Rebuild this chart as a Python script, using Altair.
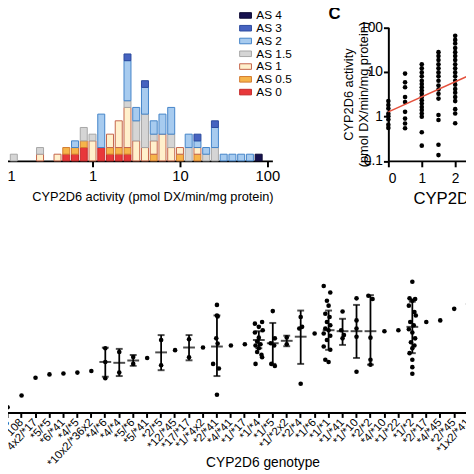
import altair as alt
import pandas as pd

# ---------------- Panel B: stacked histogram of activity by activity score ----------------
AS_LABELS = ["AS 4", "AS 3", "AS 2", "AS 1.5", "AS 1", "AS 0.5", "AS 0"]
AS_FILL = ["#17124f", "#4663c0", "#a7cbef", "#d5d5d5", "#fff0cc", "#f6b44a", "#e8383a"]
AS_STROKE = ["#0e0b35", "#2c4a9e", "#4384c8", "#a6a6a6", "#c4644a", "#d27a30", "#c42a2a"]
AS_ORDER = {"AS 0": 0, "AS 0.5": 1, "AS 1": 2, "AS 1.5": 3, "AS 2": 4, "AS 3": 5, "AS 4": 6}

hist_bin = [-0.9,
            -0.6, -0.6,
            -0.4,
            -0.3, -0.3,
            -0.2, -0.2, -0.2,
            -0.1, -0.1, -0.1,
            0.0, 0.0,
            0.1, 0.1,
            0.2, 0.2, 0.2,
            0.3, 0.3, 0.3,
            0.4, 0.4, 0.4, 0.4, 0.4, 0.4,
            0.5, 0.5, 0.5,
            0.6, 0.6, 0.6, 0.6,
            0.7, 0.7, 0.7, 0.7,
            0.8, 0.8,
            0.9, 0.9, 0.9,
            1.0, 1.0,
            1.1, 1.1,
            1.2, 1.2, 1.2, 1.2,
            1.3, 1.3,
            1.4, 1.4, 1.4,
            1.5, 1.6, 1.7, 1.8, 1.9]
hist_score = ["AS 1.5",
              "AS 1", "AS 1.5",
              "AS 1",
              "AS 0", "AS 0.5",
              "AS 0", "AS 0.5", "AS 2",
              "AS 0", "AS 0.5", "AS 1.5",
              "AS 1", "AS 1.5",
              "AS 0", "AS 2",
              "AS 0", "AS 0.5", "AS 1",
              "AS 0", "AS 0.5", "AS 1",
              "AS 0", "AS 0.5", "AS 1", "AS 1.5", "AS 2", "AS 3",
              "AS 1", "AS 1.5", "AS 2",
              "AS 1", "AS 1.5", "AS 2", "AS 3",
              "AS 0.5", "AS 1", "AS 1.5", "AS 2",
              "AS 1", "AS 2",
              "AS 1", "AS 1.5", "AS 2",
              "AS 0.5", "AS 1",
              "AS 1.5", "AS 2",
              "AS 0.5", "AS 1", "AS 2", "AS 3",
              "AS 1.5", "AS 2",
              "AS 1.5", "AS 2", "AS 3",
              "AS 2", "AS 2", "AS 2", "AS 2", "AS 4"]
hist_count = [1,
              1, 1,
              1,
              1, 1,
              1, 1, 1,
              2, 1, 2,
              3, 1,
              2, 5,
              1, 1, 2,
              1, 1, 4,
              1, 1, 6, 1, 6, 1,
              3, 3, 2,
              2, 5, 4, 1,
              1, 2, 1, 2,
              4, 3,
              2, 2, 4,
              1, 1,
              2, 2,
              1, 1, 1, 1,
              1, 1,
              2, 3, 1,
              1, 1, 1, 1, 1]

# ---------------- Panel C: activity vs activity score ----------------
sc_score = ([0] * 8 + [0.5] * 9 + [1] * 18 + [1.5] * 16 + [2] * 20)
sc_act = [2.2, 1.8, 1.5, 1.15, 1.0, 0.85, 0.65, 0.55,
          9.1, 5.8, 4.5, 2.7, 2.1, 1.26, 0.89, 0.69, 0.54,
          14.7, 12.0, 9.7, 7.9, 6.3, 5.3, 4.5, 3.8, 3.2, 2.7, 2.3, 1.93, 1.62, 1.38, 1.16, 0.98, 0.44, 0.22,
          27.6, 22.5, 18.4, 14.7, 12.0, 9.7, 7.9, 6.3, 4.9, 4.0, 3.2, 2.5, 1.07, 0.83, 0.23, 0.135,
          64, 52, 43, 34, 27.6, 22.5, 18.4, 14.7, 12.0, 9.7, 7.9, 6.3, 5.1, 4.1, 3.4, 2.7, 2.2, 1.45, 1.16, 0.70]
fit_score = [0, 4]
fit_act = [1.26, 28.3]

# ---------------- Panel D: activity by genotype ----------------
GENOTYPES = ["*4/*23", "*4/*108", "*4x2/*17", "*5/*5", "*6/*41", "*4/*5", "*10x2/*36x2",
             "*4/*6", "*4/*4", "*5/*6", "*5/*41", "*2/*5", "*12/*45", "*17/*17", "*1/*4x2",
             "*2/*41", "*4/*41", "*1/*17", "*1/*4", "*1/*5", "*1/*2x2", "*2/*4", "*1/*6",
             "*1/*1", "*1/*41", "*1/*10", "*2/*2", "*4/*10", "*1/*22", "*1/*2", "*2/*17",
             "*4/*45", "*2/*45", "*1x2/*41"]
GENO_VALUES = [[0.13], [0.23], [0.55], [0.65], [0.68], [0.71], [0.77],
               [2.36, 1.20, 0.54], [1.95, 0.71], [1.53, 1.09], [1.46], [3.52, 1.02], [2.14],
               [3.65, 1.51], [2.44],
               [19.8, 11.8, 11.2, 3.83, 2.96, 1.09, 0.87, 0.24], [2.69], [2.87],
               [7.89, 8.57, 6.73, 5.71, 5.11, 3.96, 3.26, 2.87, 2.69, 2.36, 1.95, 1.71, 1.51, 1.09],
               [14.6, 3.83, 3.01, 2.69, 1.09, 0.98], [4.01, 2.87], [10.9, 6.73, 6.20, 0.41], [4.87],
               [50.1, 36.5, 24.3, 19.1, 12.8, 10.9, 8.57, 7.28, 6.20, 5.71, 4.87, 4.36, 3.52, 2.56,
                2.18, 1.34, 1.20],
               [14.3, 5.71, 4.49, 3.83], [27.3, 9.25, 6.20, 4.15, 0.74], [31.0, 26.4, 3.96, 1.34, 1.05],
               [5.44], [5.71],
               [62.0, 27.3, 26.4, 24.3, 19.1, 13.9, 11.8, 8.57, 7.28, 6.00, 5.11, 3.83, 3.15, 2.69,
                2.36, 1.85, 1.34, 0.93, 0.67],
               [8.57], [9.25], [16.3], [20.7]]
GENO_JITTER = [[0], [0], [0], [0], [0], [0], [0],
               [0, 0, 0], [0, 0], [0, 0], [0], [0, 0], [0],
               [0, 0], [0],
               [0, 0, 0.1, -0.1, 0.1, -0.55, 0.28, 0], [0], [0],
               [-0.56, 0.47, 0, 0.56, -0.56, 0, -0.24, 0.24, -0.47, 0, -0.24, 0.38, 0.47, -0.47],
               [0, 0.3, -0.3, 0.2, -0.2, 0.3], [0, 0], [0, 0.2, -0.2, 0], [0],
               [-0.7, 0.24, -0.24, 0, -0.47, 0.14, -0.24, 0.24, -0.47, 0, -0.7, 0.24, -0.24, -0.7,
                0.24, -0.47, 0],
               [0, -0.2, 0.2, 0], [0, 0, 0, 0, 0], [-0.3, 0.3, 0, 0, 0],
               [0], [0],
               [0, -0.4, 0.4, 0, -0.5, 0.3, 0.5, -0.3, 0.2, -0.5, 0, 0.4, -0.2, 0.3, 0, -0.4, 0, 0, 0],
               [0], [0], [0], [0]]
SUM_GENO = ["*4/*6", "*4/*4", "*5/*6", "*2/*5", "*17/*17", "*2/*41", "*1/*4", "*1/*5",
            "*1/*2x2", "*2/*4", "*1/*1", "*1/*41", "*1/*10", "*2/*2", "*1/*2"]
SUM_MEAN = [1.20, 1.15, 1.29, 1.92, 2.44, 2.56, 3.52, 3.01, 3.39, 4.15, 5.71, 5.44, 5.44, 5.44, 6.73]
SUM_LO = [0.58, 0.60, 0.99, 0.80, 1.30, 0.60, 2.36, 1.09, 2.60, 1.09, 2.18, 2.77, 1.46, 1.05, 1.85]
SUM_HI = [2.42, 2.28, 1.68, 4.49, 4.49, 11.8, 5.44, 8.16, 4.36, 15.0, 15.0, 10.0, 19.8, 32.0, 23.2]

# ================= frames =================
df_h = pd.DataFrame({"bin": hist_bin, "score": hist_score, "n": hist_count})
df_h["ord"] = df_h["score"].map(AS_ORDER)
df_sc = pd.DataFrame({"score": sc_score, "act": sc_act})
df_fit = pd.DataFrame({"score": fit_score, "act": fit_act})
rows = []
for g, vals, jit in zip(GENOTYPES, GENO_VALUES, GENO_JITTER):
    for v, j in zip(vals, jit):
        rows.append({"g": g, "v": v, "j": j})
df_g = pd.DataFrame(rows)
df_s = pd.DataFrame({"g": SUM_GENO, "mean": SUM_MEAN, "lo": SUM_LO, "hi": SUM_HI})

FONT = "Liberation Sans"
W = H = 466  # whole drawing area (page minus margin); panels placed through scale ranges

# panel frames in pixels (x0, x1, y_bottom, y_top)
HB = (-7.5, 269.0, 151.5, 15.5)      # histogram
SC = (387.0, 523.0, 151.5, 15.5)     # scatter (x 0..4)
GN = (-7.5, -7.5 + 14.2 * len(GENOTYPES), 407.5, 264.5)  # genotype plot

# ---------------- histogram ----------------
legend = alt.Legend(orient="none", legendX=234.7, legendY=-3.5, title=None,
                    symbolType="M-1,-0.47H1V0.47H-1Z", symbolSize=145, symbolStrokeWidth=1,
                    labelFontSize=12, labelOffset=4, rowPadding=0, labelColor="black",
                    labelFont=FONT)
hist = alt.Chart(df_h).transform_calculate(
    x0="pow(10, datum.bin - 0.04)", x1="pow(10, datum.bin + 0.04)"
).transform_stack(
    stack="n", groupby=["bin"], as_=["y0", "y1"], sort=[alt.SortField("ord", order="ascending")]
).mark_rect(strokeWidth=1).encode(
    x=alt.X("x0:Q", scale=alt.Scale(type="log", domain=[0.089, 114], range=[HB[0], HB[1]]),
            axis=alt.Axis(orient="bottom", offset=HB[2] - H, values=[0.1, 1, 10, 100], format="~g",
                          labelFontSize=15, tickSize=6, labelPadding=2, titleFontSize=13,
                          titleX=147, titleY=40.5, titleBaseline="alphabetic", titleAlign="center"),
            title="CYP2D6 activity (pmol DX/min/mg protein)"),
    x2="x1:Q",
    y=alt.Y("y0:Q", scale=alt.Scale(domain=[0, 20], range=[HB[2], HB[3]]), axis=None),
    y2="y1:Q",
    fill=alt.Fill("score:N", scale=alt.Scale(domain=AS_LABELS, range=AS_FILL), legend=legend),
    stroke=alt.Stroke("score:N", scale=alt.Scale(domain=AS_LABELS, range=AS_STROKE), legend=legend),
)

# ---------------- scatter ----------------
sx = alt.X("score:Q", scale=alt.Scale(domain=[0, 4], nice=False, range=[SC[0], SC[1]]),
           axis=alt.Axis(orient="bottom", offset=SC[2] - H, values=[0, 1, 2, 3, 4], labelFontSize=14,
                         tickSize=6, labelPadding=5, titleFontSize=17, titleX=SC[0] + 25, titleY=43,
                         titleAlign="left", titleBaseline="alphabetic"),
           title="CYP2D6 activity score")
sy = alt.Y("act:Q", scale=alt.Scale(type="log", domain=[0.1, 100], range=[SC[2], SC[3]]),
           axis=alt.Axis(orient="left", offset=-SC[0], values=[0.1, 1, 10, 100], format="~g",
                         labelFontSize=14, tickSize=5, labelPadding=1, titleFontSize=13,
                         titleX=-36, titleY=(SC[2] + SC[3]) / 2, titleAlign="center",
                         titleBaseline="alphabetic", titleLineHeight=15),
           title=["CYP2D6 activity", "(pmol DX/min/mg protein)"])
pts = alt.Chart(df_sc).mark_circle(size=22, color="black", opacity=1).encode(x=sx, y=sy)
fit = alt.Chart(df_fit).mark_line(color="#e4503c", strokeWidth=1.5).encode(x=sx, y=sy)
scatter = alt.layer(pts, fit)

# ---------------- genotype dot plot ----------------
gx = alt.X("g:N", scale=alt.Scale(type="band", domain=GENOTYPES, paddingInner=0, paddingOuter=0,
                                  range=[GN[0], GN[1]]),
           axis=alt.Axis(orient="bottom", offset=GN[2] - H, labelAngle=-47, labelAlign="right",
                         labelBaseline="middle", labelFontSize=11.5, labelPadding=3, tickSize=5,
                         labelOverlap=False, titleFontSize=14, titleX=259, titleY=54.5,
                         titleAlign="center", titleBaseline="alphabetic"),
           title="CYP2D6 genotype")
gscale = alt.Scale(type="log", domain=[0.1, 100], range=[GN[2], GN[3]])
dots = alt.Chart(df_g).mark_circle(size=22, color="black", opacity=1).encode(
    x=gx, xOffset=alt.XOffset("j:Q", scale=alt.Scale(domain=[-1, 1])),
    y=alt.Y("v:Q", scale=gscale, axis=None))
err = alt.Chart(df_s).mark_rule(color="black", strokeWidth=1.8).encode(
    x=gx, y=alt.Y("lo:Q", scale=gscale, axis=None), y2="hi:Q")
mean_t = alt.Chart(df_s).mark_tick(color="black", orient="horizontal", size=12, thickness=2).encode(
    x=gx, y=alt.Y("mean:Q", scale=gscale, axis=None))
cap_lo = alt.Chart(df_s).mark_tick(color="black", orient="horizontal", size=7, thickness=2).encode(
    x=gx, y=alt.Y("lo:Q", scale=gscale, axis=None))
cap_hi = alt.Chart(df_s).mark_tick(color="black", orient="horizontal", size=7, thickness=2).encode(
    x=gx, y=alt.Y("hi:Q", scale=gscale, axis=None))
geno = alt.layer(dots, err, mean_t, cap_lo, cap_hi)

chart = alt.layer(hist, scatter, geno).resolve_scale(
    x="independent", y="independent"
).properties(
    width=W, height=H, padding=0, autosize=alt.AutoSizeParams(type="none"),
    title=alt.TitleParams("C", anchor="start", frame="group", fontSize=17, fontWeight="bold",
                          dx=326, dy=28, offset=0, baseline="alphabetic", color="black", font=FONT)
).configure(font=FONT).configure_view(stroke=None).configure_axis(
    grid=False, domainColor="black", tickColor="black", labelColor="black", titleColor="black",
    domainWidth=2, tickWidth=2, titleFontWeight="normal", labelFont=FONT, titleFont=FONT)

chart.save("out.html", embed_options={"renderer": "svg", "actions": False})
